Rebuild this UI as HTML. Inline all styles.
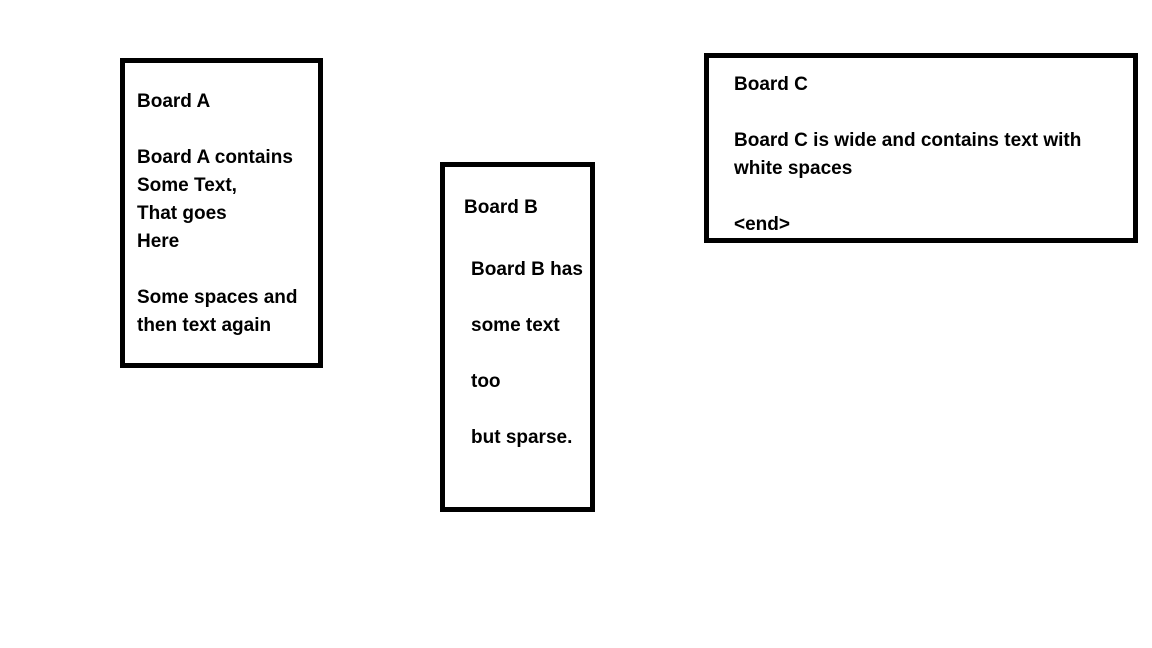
<!DOCTYPE html>
<html><head><style>
body{margin:0;width:1152px;height:648px;background:#fff;position:relative;overflow:hidden;font-family:"Liberation Sans",sans-serif;font-weight:bold;font-size:19px;color:#000}
.b{position:absolute;border:5px solid #000;box-sizing:border-box}
.t{position:absolute;line-height:28px;white-space:pre}
</style></head><body>
<div class="b" style="left:120px;top:58px;width:203px;height:310px"></div>
<div class="b" style="left:440px;top:162px;width:155px;height:350px"></div>
<div class="b" style="left:704px;top:53px;width:434px;height:190px"></div>
<div class="t" style="left:137px;top:88px">Board A

Board A contains
Some Text,
That goes
Here

Some spaces and
then text again</div>
<div class="t" style="left:464px;top:194px">Board B</div>
<div class="t" style="left:471px;top:256px">Board B has

some text

too

but sparse.</div>
<div class="t" style="left:734px;top:71px">Board C</div>
<div class="t" style="left:734px;top:127px">Board C is wide and contains text with
white spaces

&lt;end&gt;</div>
</body></html>
